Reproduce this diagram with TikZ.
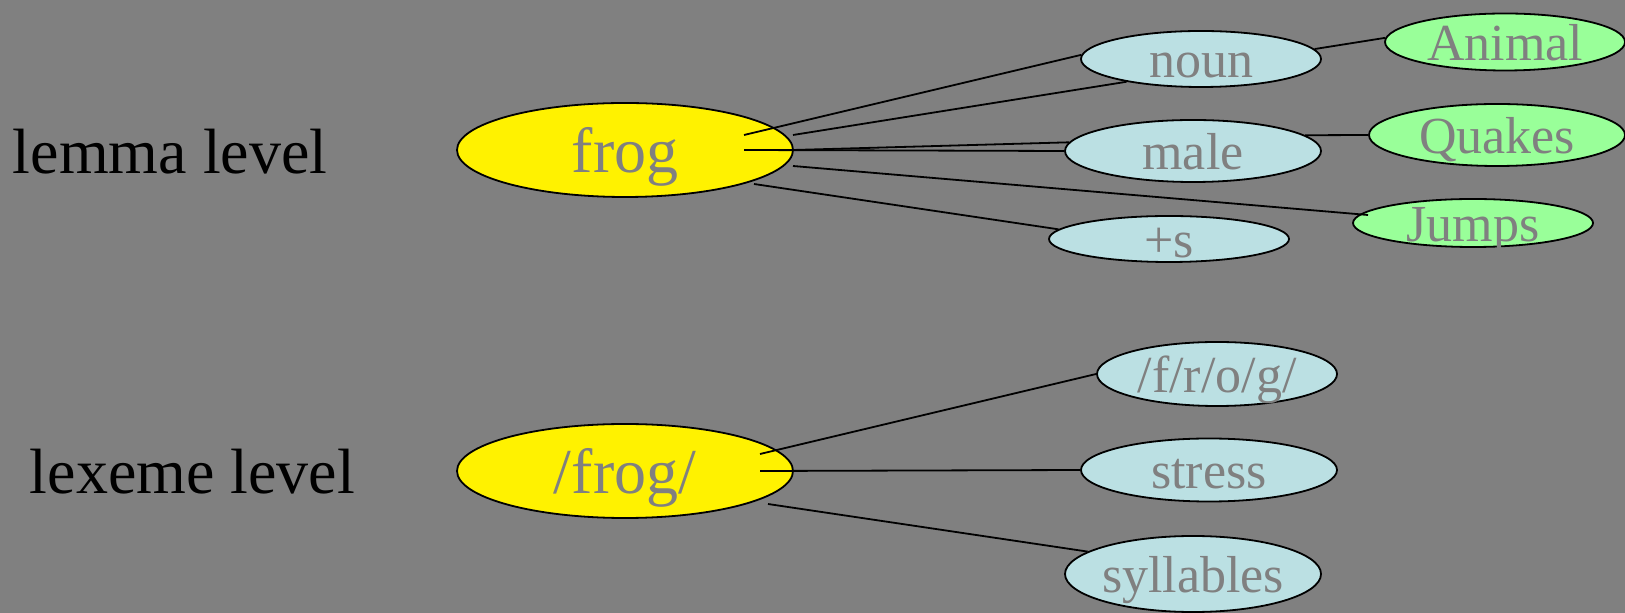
\documentclass[tikz,border=0pt]{standalone}
\usepackage{fontspec}
\setmainfont{Liberation Serif}
\usetikzlibrary{shapes.geometric}
\definecolor{slide}{RGB}{128,128,128}
\definecolor{featblue}{RGB}{187,224,227}
\definecolor{featgreen}{RGB}{153,255,153}
\newcommand{\nodetext}[1]{\makebox[0pt]{\smash{\raisebox{-0.35em}{#1}}}}
\begin{document}
\begin{tikzpicture}
  [x=0.5pt,y=-0.5pt,line width=0.9pt,
   word/.style={ellipse,draw,inner sep=0pt,text=slide,fill=yellow,
     minimum width=168pt,minimum height=47pt,font=\fontsize{32}{38}\selectfont},
   feat/.style={ellipse,draw,inner sep=0pt,text=slide,fill=featblue,
     font=\fontsize{26}{31}\selectfont},
   trait/.style={feat,fill=featgreen},
   level/.style={inner sep=0pt,anchor=base west,font=\fontsize{32}{38}\selectfont}]
  \fill[slide] (0,0) rectangle (1625,613);
  \useasboundingbox (0,0) rectangle (1625,613);

  \node[level] (lemma) at (12,174) {lemma level};
  \node[level] (lexeme) at (29,494) {lexeme level};

  \node[word] (frog) at (625,150) {\nodetext{frog}};
  \node[word] (sfrog) at (625,471) {\nodetext{/frog/}};

  \node[feat,minimum width=120pt,minimum height=28pt] (noun) at (1201,59) {\nodetext{noun}};
  \node[feat,minimum width=128pt,minimum height=31pt] (male) at (1193,151) {\nodetext{male}};
  \node[feat,minimum width=120pt,minimum height=23pt] (plus) at (1169,239) {\nodetext{+s}};
  \node[trait,minimum width=120pt,minimum height=28.5pt] (animal) at (1505,42) {\nodetext{Animal}};
  \node[trait,minimum width=128pt,minimum height=31pt] (quakes) at (1497,135) {\nodetext{Quakes}};
  \node[trait,minimum width=120pt,minimum height=24pt] (jumps) at (1473,223) {\nodetext{Jumps}};

  \node[feat,minimum width=120pt,minimum height=32pt] (phon) at (1217,374) {\nodetext{/f/r/o/g/}};
  \node[feat,minimum width=128pt,minimum height=31.5pt] (stress) at (1209,470) {\nodetext{stress}};
  \node[feat,minimum width=128pt,minimum height=38pt] (syll) at (1193,574) {\nodetext{syllables}};

  % loose ends of the lines
  \coordinate (f1) at (744,135);
  \coordinate (f2) at (793,135);
  \coordinate (f3) at (744,150);
  \coordinate (f4) at (793,150);
  \coordinate (f5) at (793,166);
  \coordinate (f6) at (754,184);
  \coordinate (j1) at (1368,215);
  \coordinate (x1) at (760,454);
  \coordinate (x2) at (760,471);
  \coordinate (x3) at (768,504);

  \foreach \from/\to in {f1/noun.178,f2/noun.197,f3/male.west,f4/male.176,f5/j1,f6/plus.175,
      noun.5/animal.178,male.8/quakes.west,x1/phon.west,x2/stress.west,x3/syll.168}
    \draw (\from) -- (\to);
\end{tikzpicture}
\end{document}
